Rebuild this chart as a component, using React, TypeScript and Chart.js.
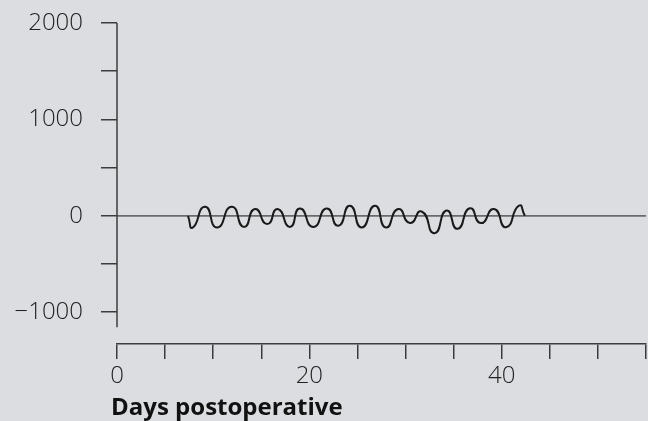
import { useEffect, useRef } from 'react';
import { Chart, registerables } from 'chart.js';

Chart.register(...registerables);

// ---- Data ----
const waveDays = [
  7.38, 7.87, 9.15, 10.4, 11.92, 13.2, 14.35, 15.62, 16.7, 17.98, 19.02, 20.41,
  21.8, 23.0, 24.22, 25.44, 26.82, 27.96, 29.24, 30.46, 31.67, 33.0, 34.27, 35.4,
  36.69, 37.84, 39.19, 40.44, 41.79, 42.41,
];
const waveValues = [
  0, -122, 94, -122, 94, -115, 70, -86, 70, -115, 76, -115,
  76, -104, 104, -122, 104, -122, 70, -75, 45, -180, 55, -135,
  78, -76, 70, -118, 105, 0,
];
const baselineDays = [0, 55];
const baselineValues = [0, 0];

const xTickStep = 5;
const xMin = 0;
const xMax = 55;
const xLabelledTicks = [0, 20, 40];

const yTickValues = [-1000, -500, 0, 500, 1000, 1500, 2000];
const yLabelledTicks = [-1000, 0, 1000, 2000];
const yMin = -1330;
const yMax = 2000;
const yAxisEnd = -1157;

const xTitle = 'Days postoperative';

// ---- Styles ----
const BG = '#dcdde0';
const AXIS = '#3c3c3c';
const TEXT = '#222222';
const FONT = '"Open Sans", "Noto Sans", sans-serif';

const decorPlugin = {
  id: 'decor',
  beforeDraw(chart: any) {
    const { ctx, width, height } = chart;
    ctx.save();
    ctx.fillStyle = BG;
    ctx.fillRect(0, 0, width, height);
    ctx.restore();
  },
  afterDraw(chart: any) {
    const { ctx, chartArea } = chart;
    const ys = chart.scales.y;
    const xs = chart.scales.x;
    ctx.save();
    ctx.strokeStyle = AXIS;
    ctx.lineWidth = 1.5;
    ctx.beginPath();
    ctx.moveTo(chartArea.left, ys.getPixelForValue(yMax));
    ctx.lineTo(chartArea.left, ys.getPixelForValue(yAxisEnd));
    ctx.stroke();
    ctx.fillStyle = '#111111';
    ctx.font = `bold 24px ${FONT}`;
    ctx.textAlign = 'left';
    ctx.textBaseline = 'alphabetic';
    ctx.fillText(xTitle, xs.left - 6, 415);
    ctx.restore();
  },
};

export default function App() {
  const ref = useRef<HTMLCanvasElement | null>(null);

  useEffect(() => {
    if (!ref.current) return;
    const chart = new Chart(ref.current, {
      type: 'line',
      data: {
        datasets: [
          {
            data: waveDays.map((d, i) => ({ x: d, y: waveValues[i] })),
            borderColor: '#1a1a1a',
            borderWidth: 2,
            pointRadius: 0,
            tension: 0.65,
            fill: false,
          },
          {
            data: baselineDays.map((d, i) => ({ x: d, y: baselineValues[i] })),
            borderColor: '#6a6a6a',
            borderWidth: 1.8,
            pointRadius: 0,
            tension: 0,
            fill: false,
          },
        ],
      },
      options: {
        animation: false,
        responsive: false,
        devicePixelRatio: 1,
        layout: { padding: { top: 23, right: 2, left: 0, bottom: 0 } },
        plugins: {
          legend: { display: false },
          tooltip: { enabled: false },
          title: { display: false },
        },
        scales: {
          x: {
            type: 'linear',
            min: xMin,
            max: xMax,
            border: { display: true, color: AXIS, width: 1.5 },
            grid: {
              drawOnChartArea: false,
              drawTicks: true,
              tickLength: 15,
              color: AXIS,
              lineWidth: 1.5,
            },
            ticks: {
              stepSize: xTickStep,
              autoSkip: false,
              maxRotation: 0,
              padding: 3,
              color: TEXT,
              font: { family: FONT, size: 24, weight: '300' },
              callback: (v: any) => (xLabelledTicks.includes(Number(v)) ? String(v) : ''),
            },
            afterFit: (s: any) => {
              s.height = 421 - 344;
              s.paddingLeft = 0;
              s.paddingRight = 0;
            },
          },
          y: {
            type: 'linear',
            min: yMin,
            max: yMax,
            border: { display: false },
            grid: {
              drawOnChartArea: false,
              drawTicks: true,
              tickLength: 16,
              color: AXIS,
              lineWidth: 1.5,
            },
            afterBuildTicks: (s: any) => {
              s.ticks = yTickValues.map((v) => ({ value: v }));
            },
            ticks: {
              autoSkip: false,
              padding: 18,
              color: TEXT,
              font: { family: FONT, size: 24, weight: '300' },
              callback: (v: any) => {
                const n = Number(v);
                if (!yLabelledTicks.includes(n)) return '';
                return n < 0 ? '\u2212' + Math.abs(n) : String(n);
              },
            },
            afterFit: (s: any) => {
              s.width = 117;
              s.paddingTop = 0;
              s.paddingBottom = 0;
            },
          },
        },
      },
      plugins: [decorPlugin],
    });
    return () => chart.destroy();
  }, []);

  return (
    <div
      style={{
        position: 'fixed',
        left: 0,
        top: 0,
        width: 648,
        height: 421,
        background: BG,
      }}
    >
      <canvas ref={ref} width={648} height={421} style={{ display: 'block' }} />
    </div>
  );
}
